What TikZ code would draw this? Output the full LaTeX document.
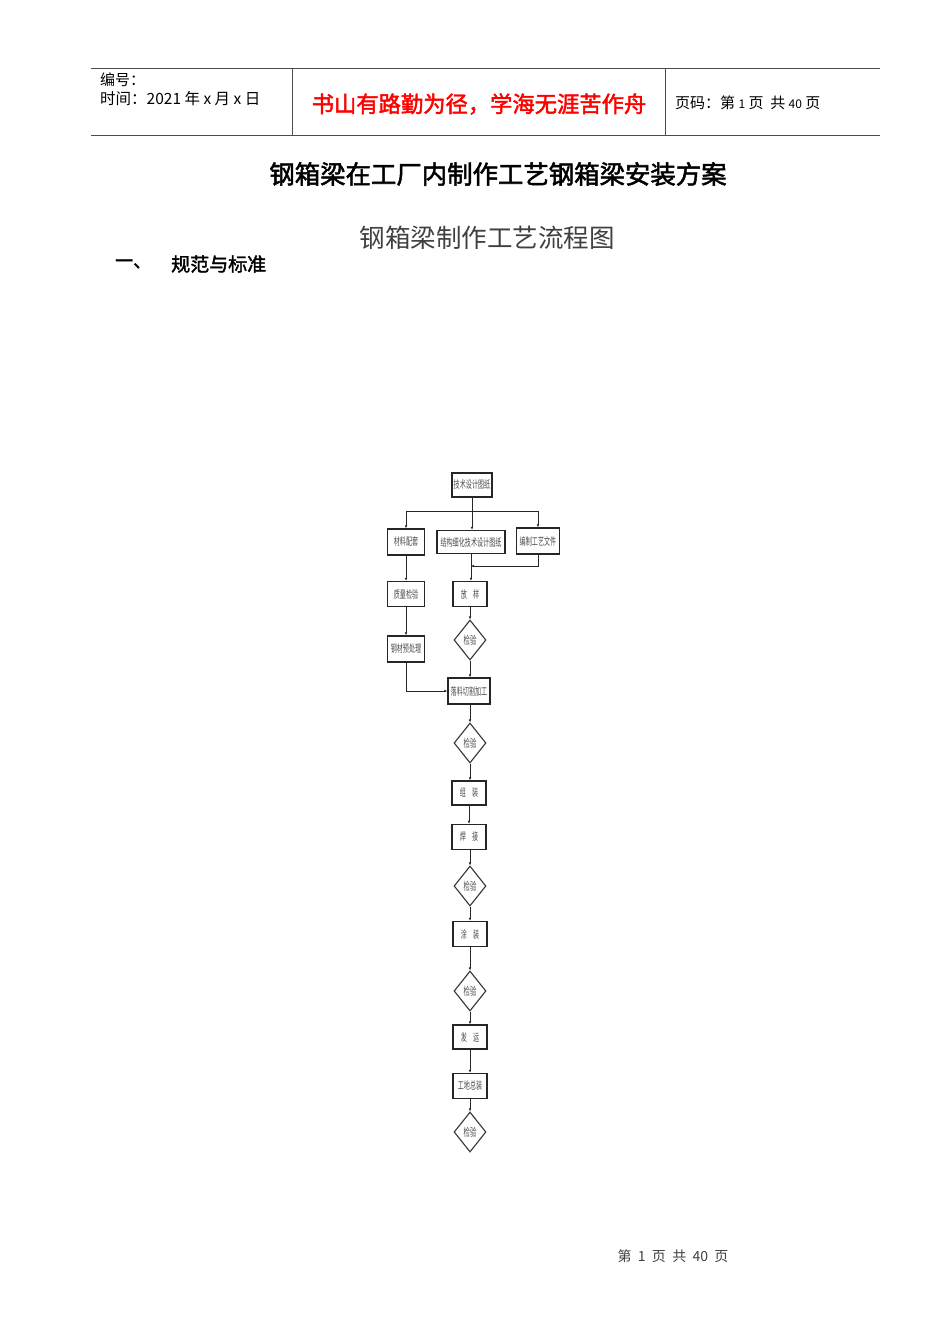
\documentclass[tikz,border=0pt]{standalone}
\usepackage{fontspec}
\setmainfont{Liberation Sans}
\newfontfamily\cjk{Noto Sans CJK SC}
\newfontfamily\cjkb[FakeBold=2]{Noto Sans CJK SC}
\usetikzlibrary{shapes.geometric,arrows.meta}
\newcommand{\sqz}[1]{\scalebox{0.58}[1]{#1}}
\tikzset{
  frame/.style={line width=0.8pt, draw=black!70},
  stepbox/.style={draw=black!85, line width=1.3pt, fill=white, inner sep=0pt,
    font=\cjk\fontsize{10.5}{10.5}\selectfont, text=black!70},
  check/.style={shape=diamond, draw=black!80, line width=1.1pt, fill=white, inner sep=0pt,
    minimum width=32pt, minimum height=40pt, font=\cjk\fontsize{11}{11}\selectfont, text=black!70},
  conn/.style={draw=black!85, line width=0.9pt},
  arr/.style={conn, -{Latex[length=3pt,width=2.6pt]}}
}
\begin{document}
\begin{tikzpicture}[x=1pt,y=-1pt]
\useasboundingbox (0,0) rectangle (950,1344);
% header
\draw[frame] (91,68) -- (880,68);
\draw[frame] (91,135) -- (880,135);
\draw[frame] (292,68) -- (292,135);
\draw[frame] (665,68) -- (665,135);
\node[anchor=west, inner sep=0, font=\cjk\fontsize{15}{15}\selectfont] (bh) at (100,80) {编号：};
\node[anchor=west, inner sep=0, font=\cjk\fontsize{15.5}{15.5}\selectfont] (sj) at (100,99) {时间：2021 年 x 月 x 日};
\node[inner sep=0, font=\cjkb\fontsize{22.3}{22.3}\selectfont, text=red] (motto) at (479,104) {书山有路勤为径，学海无涯苦作舟};
\node[anchor=west, inner sep=0, font=\cjk\fontsize{15}{15}\selectfont] (ym) at (675,103) {页码：第 {\fontsize{12}{12}\selectfont 1} 页\ \ 共 {\fontsize{12}{12}\selectfont 40} 页};
% titles
\node[inner sep=0, font=\cjkb\fontsize{25.4}{25.4}\selectfont] (title) at (498,174) {钢箱梁在工厂内制作工艺钢箱梁安装方案};
\node[inner sep=0, font=\cjk\fontsize{25.5}{25.5}\selectfont, text=black!75] (sub) at (487,238) {钢箱梁制作工艺流程图};
\node[anchor=west, inner sep=0, font=\cjkb\fontsize{18}{18}\selectfont] (sec1) at (115,264) {一、};
\node[anchor=west, inner sep=0, font=\cjkb\fontsize{19}{19}\selectfont] (sec2) at (171,264) {规范与标准};
% flowchart nodes
\node[stepbox, minimum width=40pt, minimum height=24pt] (top) at (472,485) {\sqz{技术设计图纸}};
\node[stepbox, minimum width=37pt, minimum height=26pt] (cl) at (406,542) {\sqz{材料配套}};
\node[stepbox, minimum width=68pt, minimum height=23pt] (jg) at (471,542) {\sqz{结构细化技术设计图纸}};
\node[stepbox, minimum width=43pt, minimum height=26pt] (bz) at (538,541) {\sqz{编制工艺文件}};
\node[stepbox, minimum width=37pt, minimum height=25pt] (zl) at (406,594) {\sqz{质量检验}};
\node[stepbox, minimum width=34pt, minimum height=25pt] (fy) at (470,594) {\sqz{放\quad 样}};
\node[check] (d1) at (470,640) {\sqz{检验}};
\node[stepbox, minimum width=37pt, minimum height=26pt] (gc) at (406,649) {\sqz{钢材预处理}};
\node[stepbox, minimum width=42pt, minimum height=26pt] (ll) at (469,691) {\sqz{落料切割加工}};
\node[check] (d2) at (470,743) {\sqz{检验}};
\node[stepbox, minimum width=34pt, minimum height=24pt] (zz) at (469,793) {\sqz{组\quad 装}};
\node[stepbox, minimum width=34pt, minimum height=25pt] (hj) at (469,837) {\sqz{焊\quad 接}};
\node[check] (d3) at (470,886) {\sqz{检验}};
\node[stepbox, minimum width=34pt, minimum height=25pt] (tz) at (470,934) {\sqz{涂\quad 装}};
\node[check] (d4) at (470,991) {\sqz{检验}};
\node[stepbox, minimum width=34pt, minimum height=24pt] (fyun) at (470,1037) {\sqz{发\quad 运}};
\node[stepbox, minimum width=34pt, minimum height=25pt] (gd) at (470,1086) {\sqz{工地总装}};
\node[check] (d5) at (470,1132) {\sqz{检验}};
% connectors
\coordinate (j) at (472,511);
\coordinate (m) at (471,566);
\draw[conn] (top) -- (j);
\draw[arr] (j) -| (cl.north);
\draw[arr] (j) -| (bz.north);
\draw[arr] (j) -- (jg.north -| j);
\draw[arr] (cl) -- (zl);
\draw[arr] (zl) -- (gc);
\draw[arr] (jg.south) -- (fy.north -| jg.south);
\draw[arr] (bz.south) |- (m);
\draw[arr] (fy) -- (d1);
\draw[arr] (d1) -- (ll.north -| d1);
\draw[arr] (gc.south) |- (ll.west);
\draw[arr] (ll.south -| d2) -- (d2);
\draw[arr] (d2) -- (zz.north -| d2);
\draw[arr] (zz) -- (hj);
\draw[arr] (hj.south -| d3) -- (d3);
\draw[arr] (d3) -- (tz);
\draw[arr] (tz) -- (d4);
\draw[arr] (d4) -- (fyun);
\draw[arr] (fyun) -- (gd);
\draw[arr] (gd) -- (d5);
% footer
\node[inner sep=0, font=\cjk\fontsize{14}{14}\selectfont, text=black!75] (foot) at (673,1256) {第\ \ 1\ \ 页\ \ 共\ \ 40\ \ 页};
\end{tikzpicture}
\end{document}
